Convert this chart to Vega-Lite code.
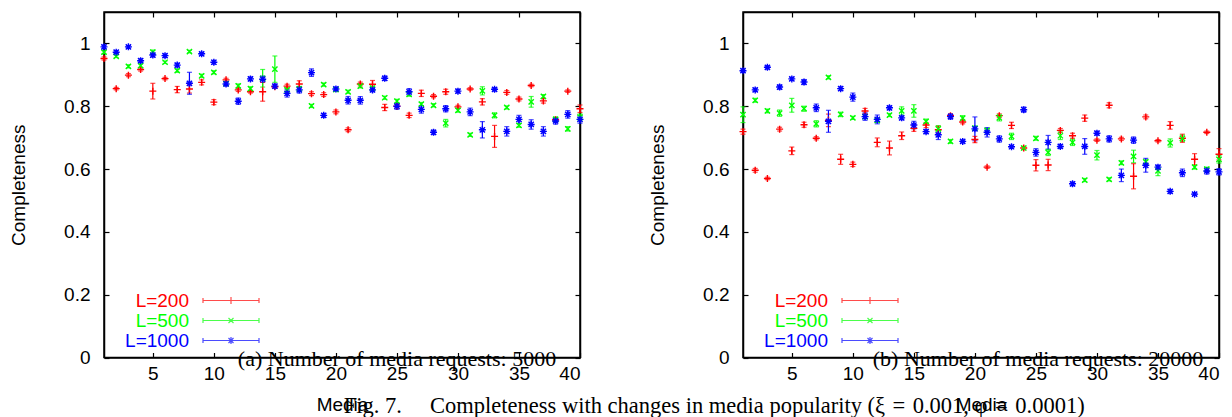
{
"$schema": "https://vega.github.io/schema/vega-lite/v6.json",
"background": "white",
"padding": {"left": 8, "top": 10, "right": 5, "bottom": 0},
"config": {
  "font": "Liberation Sans",
  "view": {"stroke": "black", "strokeWidth": 1.5},
  "axis": {"domainColor": "black", "domainWidth": 1.5, "tickColor": "black", "tickWidth": 1.2, "tickSize": -5, "labelColor": "black", "titleColor": "black", "grid": false, "labelFont": "Liberation Sans", "titleFont": "Liberation Sans", "labelFontSize": 19, "titleFontSize": 19, "titleFontWeight": "normal"},
  "axisX": {"labelPadding": 12, "titlePadding": 12},
  "axisY": {"labelPadding": 19, "titlePadding": 35},
  "legend": {"orient": "bottom-left", "offset": 7, "title": null, "padding": 0, "labelFont": "Liberation Sans", "labelFontSize": 19, "labelAlign": "right", "labelOffset": -51.5, "symbolSize": 100, "symbolOffset": 110.5, "symbolStrokeWidth": 1.2, "rowPadding": 0},
  "title": {"font": "Liberation Serif", "fontSize": 22, "fontWeight": "normal", "color": "black"}
},
"datasets": {"d": [
{"p":"a","L":"L=200","m":1,"c":0.952,"e":0.005},{"p":"a","L":"L=200","m":2,"c":0.856,"e":0.004},{"p":"a","L":"L=200","m":3,"c":0.899,"e":0.005},{"p":"a","L":"L=200","m":4,"c":0.917,"e":0.005},{"p":"a","L":"L=200","m":5,"c":0.848,"e":0.025},{"p":"a","L":"L=200","m":6,"c":0.888,"e":0.004},{"p":"a","L":"L=200","m":7,"c":0.853,"e":0.01},{"p":"a","L":"L=200","m":8,"c":0.855,"e":0.013},{"p":"a","L":"L=200","m":9,"c":0.876,"e":0.008},{"p":"a","L":"L=200","m":10,"c":0.813,"e":0.008},
{"p":"a","L":"L=200","m":11,"c":0.884,"e":0.005},{"p":"a","L":"L=200","m":12,"c":0.852,"e":0.005},{"p":"a","L":"L=200","m":13,"c":0.846,"e":0.004},{"p":"a","L":"L=200","m":14,"c":0.846,"e":0.03},{"p":"a","L":"L=200","m":15,"c":0.862,"e":0.005},{"p":"a","L":"L=200","m":16,"c":0.864,"e":0.006},{"p":"a","L":"L=200","m":17,"c":0.871,"e":0.01},{"p":"a","L":"L=200","m":18,"c":0.84,"e":0.006},{"p":"a","L":"L=200","m":19,"c":0.837,"e":0.006},{"p":"a","L":"L=200","m":20,"c":0.782,"e":0.006},
{"p":"a","L":"L=200","m":21,"c":0.725,"e":0.006},{"p":"a","L":"L=200","m":22,"c":0.871,"e":0.006},{"p":"a","L":"L=200","m":23,"c":0.87,"e":0.012},{"p":"a","L":"L=200","m":24,"c":0.796,"e":0.01},{"p":"a","L":"L=200","m":25,"c":0.8,"e":0.006},{"p":"a","L":"L=200","m":26,"c":0.771,"e":0.007},{"p":"a","L":"L=200","m":27,"c":0.841,"e":0.01},{"p":"a","L":"L=200","m":28,"c":0.832,"e":0.005},{"p":"a","L":"L=200","m":29,"c":0.846,"e":0.008},{"p":"a","L":"L=200","m":30,"c":0.798,"e":0.005},
{"p":"a","L":"L=200","m":31,"c":0.855,"e":0.004},{"p":"a","L":"L=200","m":32,"c":0.814,"e":0.01},{"p":"a","L":"L=200","m":33,"c":0.704,"e":0.035},{"p":"a","L":"L=200","m":34,"c":0.844,"e":0.006},{"p":"a","L":"L=200","m":35,"c":0.823,"e":0.006},{"p":"a","L":"L=200","m":36,"c":0.866,"e":0.004},{"p":"a","L":"L=200","m":37,"c":0.817,"e":0.007},{"p":"a","L":"L=200","m":38,"c":0.757,"e":0.006},{"p":"a","L":"L=200","m":39,"c":0.848,"e":0.004},{"p":"a","L":"L=200","m":40,"c":0.792,"e":0.012},
{"p":"a","L":"L=500","m":1,"c":0.972,"e":0.005},{"p":"a","L":"L=500","m":2,"c":0.959,"e":0.004},{"p":"a","L":"L=500","m":3,"c":0.927,"e":0.005},{"p":"a","L":"L=500","m":4,"c":0.929,"e":0.006},{"p":"a","L":"L=500","m":5,"c":0.972,"e":0.007},{"p":"a","L":"L=500","m":6,"c":0.94,"e":0.004},{"p":"a","L":"L=500","m":7,"c":0.913,"e":0.005},{"p":"a","L":"L=500","m":8,"c":0.974,"e":0.004},{"p":"a","L":"L=500","m":9,"c":0.897,"e":0.005},{"p":"a","L":"L=500","m":10,"c":0.908,"e":0.005},
{"p":"a","L":"L=500","m":11,"c":0.872,"e":0.005},{"p":"a","L":"L=500","m":12,"c":0.865,"e":0.006},{"p":"a","L":"L=500","m":13,"c":0.856,"e":0.006},{"p":"a","L":"L=500","m":14,"c":0.889,"e":0.028},{"p":"a","L":"L=500","m":15,"c":0.918,"e":0.042},{"p":"a","L":"L=500","m":16,"c":0.852,"e":0.006},{"p":"a","L":"L=500","m":17,"c":0.855,"e":0.008},{"p":"a","L":"L=500","m":18,"c":0.801,"e":0.005},{"p":"a","L":"L=500","m":19,"c":0.869,"e":0.005},{"p":"a","L":"L=500","m":20,"c":0.853,"e":0.005},
{"p":"a","L":"L=500","m":21,"c":0.846,"e":0.005},{"p":"a","L":"L=500","m":22,"c":0.864,"e":0.006},{"p":"a","L":"L=500","m":23,"c":0.858,"e":0.006},{"p":"a","L":"L=500","m":24,"c":0.827,"e":0.005},{"p":"a","L":"L=500","m":25,"c":0.816,"e":0.006},{"p":"a","L":"L=500","m":26,"c":0.838,"e":0.006},{"p":"a","L":"L=500","m":27,"c":0.807,"e":0.005},{"p":"a","L":"L=500","m":28,"c":0.803,"e":0.005},{"p":"a","L":"L=500","m":29,"c":0.746,"e":0.012},{"p":"a","L":"L=500","m":30,"c":0.787,"e":0.006},
{"p":"a","L":"L=500","m":31,"c":0.709,"e":0.005},{"p":"a","L":"L=500","m":32,"c":0.849,"e":0.013},{"p":"a","L":"L=500","m":33,"c":0.771,"e":0.008},{"p":"a","L":"L=500","m":34,"c":0.796,"e":0.005},{"p":"a","L":"L=500","m":35,"c":0.739,"e":0.006},{"p":"a","L":"L=500","m":36,"c":0.814,"e":0.017},{"p":"a","L":"L=500","m":37,"c":0.831,"e":0.006},{"p":"a","L":"L=500","m":38,"c":0.758,"e":0.008},{"p":"a","L":"L=500","m":39,"c":0.728,"e":0.007},{"p":"a","L":"L=500","m":40,"c":0.765,"e":0.01},
{"p":"a","L":"L=1000","m":1,"c":0.989,"e":0.005},{"p":"a","L":"L=1000","m":2,"c":0.972,"e":0.005},{"p":"a","L":"L=1000","m":3,"c":0.989,"e":0.004},{"p":"a","L":"L=1000","m":4,"c":0.945,"e":0.006},{"p":"a","L":"L=1000","m":5,"c":0.963,"e":0.006},{"p":"a","L":"L=1000","m":6,"c":0.961,"e":0.005},{"p":"a","L":"L=1000","m":7,"c":0.931,"e":0.006},{"p":"a","L":"L=1000","m":8,"c":0.873,"e":0.035},{"p":"a","L":"L=1000","m":9,"c":0.967,"e":0.005},{"p":"a","L":"L=1000","m":10,"c":0.94,"e":0.006},
{"p":"a","L":"L=1000","m":11,"c":0.871,"e":0.007},{"p":"a","L":"L=1000","m":12,"c":0.816,"e":0.01},{"p":"a","L":"L=1000","m":13,"c":0.887,"e":0.006},{"p":"a","L":"L=1000","m":14,"c":0.886,"e":0.01},{"p":"a","L":"L=1000","m":15,"c":0.864,"e":0.006},{"p":"a","L":"L=1000","m":16,"c":0.841,"e":0.012},{"p":"a","L":"L=1000","m":17,"c":0.852,"e":0.01},{"p":"a","L":"L=1000","m":18,"c":0.907,"e":0.012},{"p":"a","L":"L=1000","m":19,"c":0.771,"e":0.006},{"p":"a","L":"L=1000","m":20,"c":0.855,"e":0.006},
{"p":"a","L":"L=1000","m":21,"c":0.819,"e":0.012},{"p":"a","L":"L=1000","m":22,"c":0.819,"e":0.012},{"p":"a","L":"L=1000","m":23,"c":0.852,"e":0.006},{"p":"a","L":"L=1000","m":24,"c":0.889,"e":0.007},{"p":"a","L":"L=1000","m":25,"c":0.8,"e":0.01},{"p":"a","L":"L=1000","m":26,"c":0.846,"e":0.01},{"p":"a","L":"L=1000","m":27,"c":0.79,"e":0.012},{"p":"a","L":"L=1000","m":28,"c":0.717,"e":0.007},{"p":"a","L":"L=1000","m":29,"c":0.792,"e":0.01},{"p":"a","L":"L=1000","m":30,"c":0.848,"e":0.006},
{"p":"a","L":"L=1000","m":31,"c":0.782,"e":0.012},{"p":"a","L":"L=1000","m":32,"c":0.725,"e":0.026},{"p":"a","L":"L=1000","m":33,"c":0.854,"e":0.005},{"p":"a","L":"L=1000","m":34,"c":0.72,"e":0.015},{"p":"a","L":"L=1000","m":35,"c":0.758,"e":0.013},{"p":"a","L":"L=1000","m":36,"c":0.742,"e":0.015},{"p":"a","L":"L=1000","m":37,"c":0.72,"e":0.015},{"p":"a","L":"L=1000","m":38,"c":0.753,"e":0.01},{"p":"a","L":"L=1000","m":39,"c":0.774,"e":0.012},{"p":"a","L":"L=1000","m":40,"c":0.758,"e":0.012},
{"p":"b","L":"L=200","m":1,"c":0.719,"e":0.008},{"p":"b","L":"L=200","m":2,"c":0.596,"e":0.006},{"p":"b","L":"L=200","m":3,"c":0.57,"e":0.004},{"p":"b","L":"L=200","m":4,"c":0.727,"e":0.006},{"p":"b","L":"L=200","m":5,"c":0.658,"e":0.012},{"p":"b","L":"L=200","m":6,"c":0.741,"e":0.008},{"p":"b","L":"L=200","m":7,"c":0.698,"e":0.005},{"p":"b","L":"L=200","m":8,"c":0.755,"e":0.02},{"p":"b","L":"L=200","m":9,"c":0.631,"e":0.016},{"p":"b","L":"L=200","m":10,"c":0.615,"e":0.007},
{"p":"b","L":"L=200","m":11,"c":0.785,"e":0.008},{"p":"b","L":"L=200","m":12,"c":0.685,"e":0.014},{"p":"b","L":"L=200","m":13,"c":0.667,"e":0.022},{"p":"b","L":"L=200","m":14,"c":0.706,"e":0.012},{"p":"b","L":"L=200","m":15,"c":0.73,"e":0.01},{"p":"b","L":"L=200","m":16,"c":0.74,"e":0.008},{"p":"b","L":"L=200","m":17,"c":0.725,"e":0.012},{"p":"b","L":"L=200","m":18,"c":0.77,"e":0.006},{"p":"b","L":"L=200","m":19,"c":0.75,"e":0.006},{"p":"b","L":"L=200","m":20,"c":0.694,"e":0.01},
{"p":"b","L":"L=200","m":21,"c":0.606,"e":0.004},{"p":"b","L":"L=200","m":22,"c":0.77,"e":0.006},{"p":"b","L":"L=200","m":23,"c":0.739,"e":0.01},{"p":"b","L":"L=200","m":24,"c":0.667,"e":0.005},{"p":"b","L":"L=200","m":25,"c":0.612,"e":0.018},{"p":"b","L":"L=200","m":26,"c":0.613,"e":0.018},{"p":"b","L":"L=200","m":27,"c":0.723,"e":0.006},{"p":"b","L":"L=200","m":28,"c":0.706,"e":0.008},{"p":"b","L":"L=200","m":29,"c":0.762,"e":0.01},{"p":"b","L":"L=200","m":30,"c":0.692,"e":0.004},
{"p":"b","L":"L=200","m":31,"c":0.803,"e":0.008},{"p":"b","L":"L=200","m":32,"c":0.696,"e":0.005},{"p":"b","L":"L=200","m":33,"c":0.577,"e":0.04},{"p":"b","L":"L=200","m":34,"c":0.766,"e":0.006},{"p":"b","L":"L=200","m":35,"c":0.69,"e":0.004},{"p":"b","L":"L=200","m":36,"c":0.739,"e":0.012},{"p":"b","L":"L=200","m":37,"c":0.698,"e":0.013},{"p":"b","L":"L=200","m":38,"c":0.631,"e":0.018},{"p":"b","L":"L=200","m":39,"c":0.717,"e":0.004},{"p":"b","L":"L=200","m":40,"c":0.647,"e":0.018},
{"p":"b","L":"L=500","m":1,"c":0.773,"e":0.025},{"p":"b","L":"L=500","m":2,"c":0.819,"e":0.006},{"p":"b","L":"L=500","m":3,"c":0.785,"e":0.006},{"p":"b","L":"L=500","m":4,"c":0.778,"e":0.01},{"p":"b","L":"L=500","m":5,"c":0.803,"e":0.022},{"p":"b","L":"L=500","m":6,"c":0.792,"e":0.008},{"p":"b","L":"L=500","m":7,"c":0.744,"e":0.01},{"p":"b","L":"L=500","m":8,"c":0.892,"e":0.005},{"p":"b","L":"L=500","m":9,"c":0.774,"e":0.007},{"p":"b","L":"L=500","m":10,"c":0.763,"e":0.005},
{"p":"b","L":"L=500","m":11,"c":0.767,"e":0.006},{"p":"b","L":"L=500","m":12,"c":0.755,"e":0.006},{"p":"b","L":"L=500","m":13,"c":0.772,"e":0.005},{"p":"b","L":"L=500","m":14,"c":0.785,"e":0.013},{"p":"b","L":"L=500","m":15,"c":0.785,"e":0.02},{"p":"b","L":"L=500","m":16,"c":0.752,"e":0.007},{"p":"b","L":"L=500","m":17,"c":0.728,"e":0.01},{"p":"b","L":"L=500","m":18,"c":0.688,"e":0.006},{"p":"b","L":"L=500","m":19,"c":0.762,"e":0.008},{"p":"b","L":"L=500","m":20,"c":0.73,"e":0.006},
{"p":"b","L":"L=500","m":21,"c":0.723,"e":0.006},{"p":"b","L":"L=500","m":22,"c":0.763,"e":0.01},{"p":"b","L":"L=500","m":23,"c":0.704,"e":0.01},{"p":"b","L":"L=500","m":24,"c":0.667,"e":0.005},{"p":"b","L":"L=500","m":25,"c":0.698,"e":0.006},{"p":"b","L":"L=500","m":26,"c":0.653,"e":0.01},{"p":"b","L":"L=500","m":27,"c":0.706,"e":0.012},{"p":"b","L":"L=500","m":28,"c":0.685,"e":0.01},{"p":"b","L":"L=500","m":29,"c":0.565,"e":0.005},{"p":"b","L":"L=500","m":30,"c":0.644,"e":0.015},
{"p":"b","L":"L=500","m":31,"c":0.567,"e":0.005},{"p":"b","L":"L=500","m":32,"c":0.62,"e":0.006},{"p":"b","L":"L=500","m":33,"c":0.64,"e":0.02},{"p":"b","L":"L=500","m":34,"c":0.623,"e":0.006},{"p":"b","L":"L=500","m":35,"c":0.594,"e":0.015},{"p":"b","L":"L=500","m":36,"c":0.683,"e":0.013},{"p":"b","L":"L=500","m":37,"c":0.698,"e":0.01},{"p":"b","L":"L=500","m":38,"c":0.606,"e":0.006},{"p":"b","L":"L=500","m":39,"c":0.6,"e":0.006},{"p":"b","L":"L=500","m":40,"c":0.631,"e":0.012},
{"p":"b","L":"L=1000","m":1,"c":0.913,"e":0.005},{"p":"b","L":"L=1000","m":2,"c":0.852,"e":0.005},{"p":"b","L":"L=1000","m":3,"c":0.924,"e":0.005},{"p":"b","L":"L=1000","m":4,"c":0.861,"e":0.007},{"p":"b","L":"L=1000","m":5,"c":0.887,"e":0.005},{"p":"b","L":"L=1000","m":6,"c":0.877,"e":0.008},{"p":"b","L":"L=1000","m":7,"c":0.795,"e":0.012},{"p":"b","L":"L=1000","m":8,"c":0.752,"e":0.035},{"p":"b","L":"L=1000","m":9,"c":0.856,"e":0.006},{"p":"b","L":"L=1000","m":10,"c":0.829,"e":0.013},
{"p":"b","L":"L=1000","m":11,"c":0.767,"e":0.012},{"p":"b","L":"L=1000","m":12,"c":0.758,"e":0.014},{"p":"b","L":"L=1000","m":13,"c":0.795,"e":0.006},{"p":"b","L":"L=1000","m":14,"c":0.763,"e":0.006},{"p":"b","L":"L=1000","m":15,"c":0.74,"e":0.012},{"p":"b","L":"L=1000","m":16,"c":0.719,"e":0.006},{"p":"b","L":"L=1000","m":17,"c":0.709,"e":0.015},{"p":"b","L":"L=1000","m":18,"c":0.767,"e":0.008},{"p":"b","L":"L=1000","m":19,"c":0.688,"e":0.004},{"p":"b","L":"L=1000","m":20,"c":0.728,"e":0.038},
{"p":"b","L":"L=1000","m":21,"c":0.717,"e":0.015},{"p":"b","L":"L=1000","m":22,"c":0.696,"e":0.01},{"p":"b","L":"L=1000","m":23,"c":0.671,"e":0.005},{"p":"b","L":"L=1000","m":24,"c":0.789,"e":0.008},{"p":"b","L":"L=1000","m":25,"c":0.653,"e":0.012},{"p":"b","L":"L=1000","m":26,"c":0.685,"e":0.022},{"p":"b","L":"L=1000","m":27,"c":0.672,"e":0.006},{"p":"b","L":"L=1000","m":28,"c":0.553,"e":0.006},{"p":"b","L":"L=1000","m":29,"c":0.672,"e":0.025},{"p":"b","L":"L=1000","m":30,"c":0.714,"e":0.006},
{"p":"b","L":"L=1000","m":31,"c":0.696,"e":0.01},{"p":"b","L":"L=1000","m":32,"c":0.58,"e":0.02},{"p":"b","L":"L=1000","m":33,"c":0.692,"e":0.01},{"p":"b","L":"L=1000","m":34,"c":0.612,"e":0.022},{"p":"b","L":"L=1000","m":35,"c":0.606,"e":0.006},{"p":"b","L":"L=1000","m":36,"c":0.529,"e":0.005},{"p":"b","L":"L=1000","m":37,"c":0.588,"e":0.012},{"p":"b","L":"L=1000","m":38,"c":0.52,"e":0.004},{"p":"b","L":"L=1000","m":39,"c":0.594,"e":0.01},{"p":"b","L":"L=1000","m":40,"c":0.591,"e":0.01}
]},
"data": {"name": "d"},
"title": {"text": "Fig. 7.\u2003 Completeness with changes in media popularity (ξ\u2004=\u20040.001, φ\u2004=\u20040.0001)", "orient": "bottom", "anchor": "start", "frame": "bounds", "dx": 335, "offset": -20, "fontSize": 22.5},
"spacing": 59,
"resolve": {"scale": {"color": "independent"}, "legend": {"color": "independent"}},
"hconcat": [
{
  "width": 476, "height": 345.5,
  "title": {"text": "(a) Number of media requests: 5000", "orient": "bottom", "anchor": "middle", "dx": 55, "offset": -66},
  "transform": [{"filter": "datum.p === 'a'"}],
  "layer": [
    {"mark": {"type": "errorbar", "ticks": true, "size": 5, "thickness": 1.2},
     "encoding": {
       "x": {"field": "m", "type": "quantitative", "scale": {"domain": [1, 40]}, "axis": {"values": [5,10,15,20,25,30,35,40], "title": "Media"}},
       "y": {"field": "c", "type": "quantitative", "scale": {"domain": [0, 1.1]}, "axis": {"values": [0,0.2,0.4,0.6,0.8,1], "format": "~g", "title": "Completeness"}},
       "yError": {"field": "e"},
       "color": {"field": "L", "type": "nominal", "scale": {"domain": ["L=200","L=500","L=1000"], "range": ["#ff0000","#00ff00","#0000ff"]},
         "legend": {"labelColor": {"expr": "datum.value === 'L=200' ? '#ff0000' : datum.value === 'L=500' ? '#00ff00' : '#0000ff'"},
                    "symbolType": {"expr": "datum.value === 'L=200' ? 'M-5.6,0L5.6,0M-5.6,-0.5L-5.6,0.5M5.6,-0.5L5.6,0.5M-0.7,0L0.7,0M0,-0.7L0,0.7' : datum.value === 'L=500' ? 'M-5.6,0L5.6,0M-5.6,-0.5L-5.6,0.5M5.6,-0.5L5.6,0.5M-0.5,-0.5L0.5,0.5M-0.5,0.5L0.5,-0.5' : 'M-5.6,0L5.6,0M-5.6,-0.5L-5.6,0.5M5.6,-0.5L5.6,0.5M-0.7,0L0.7,0M0,-0.7L0,0.7M-0.5,-0.5L0.5,0.5M-0.5,0.5L0.5,-0.5'"}}}
     }},
    {"transform": [{"filter": "datum.L === 'L=200'"}],
     "mark": {"type": "point", "shape": "M-1,0L1,0M0,-1L0,1", "filled": false, "strokeWidth": 1.4, "size": 49, "opacity": 1},
     "encoding": {
       "x": {"field": "m", "type": "quantitative", "scale": {"domain": [1, 40]}, "axis": {"orient": "top", "values": [5,10,15,20,25,30,35,40], "labels": false, "title": null}},
       "y": {"field": "c", "type": "quantitative", "scale": {"domain": [0, 1.1]}, "axis": {"orient": "right", "values": [0,0.2,0.4,0.6,0.8,1], "labels": false, "title": null}},
       "color": {"field": "L", "type": "nominal", "scale": {"domain": ["L=200","L=500","L=1000"], "range": ["#ff0000","#00ff00","#0000ff"]}}
     }},
    {"transform": [{"filter": "datum.L === 'L=500'"}],
     "mark": {"type": "point", "shape": "M-0.75,-0.75L0.75,0.75M-0.75,0.75L0.75,-0.75", "filled": false, "strokeWidth": 1.4, "size": 49, "opacity": 1},
     "encoding": {
       "x": {"field": "m", "type": "quantitative", "scale": {"domain": [1, 40]}, "axis": null},
       "y": {"field": "c", "type": "quantitative", "scale": {"domain": [0, 1.1]}, "axis": null},
       "color": {"field": "L", "type": "nominal", "scale": {"domain": ["L=200","L=500","L=1000"], "range": ["#ff0000","#00ff00","#0000ff"]}}
     }},
    {"transform": [{"filter": "datum.L === 'L=1000'"}],
     "mark": {"type": "point", "shape": "M-1,0L1,0M0,-1L0,1M-0.75,-0.75L0.75,0.75M-0.75,0.75L0.75,-0.75", "filled": false, "strokeWidth": 1.4, "size": 49, "opacity": 1},
     "encoding": {
       "x": {"field": "m", "type": "quantitative", "scale": {"domain": [1, 40]}, "axis": null},
       "y": {"field": "c", "type": "quantitative", "scale": {"domain": [0, 1.1]}, "axis": null},
       "color": {"field": "L", "type": "nominal", "scale": {"domain": ["L=200","L=500","L=1000"], "range": ["#ff0000","#00ff00","#0000ff"]}}
     }}
  ],
  "resolve": {"axis": {"x": "independent", "y": "independent"}}
},
{
  "width": 476, "height": 345.5,
  "title": {"text": "(b) Number of media requests: 20000", "orient": "bottom", "anchor": "middle", "dx": 57, "offset": -66},
  "transform": [{"filter": "datum.p === 'b'"}],
  "layer": [
    {"mark": {"type": "errorbar", "ticks": true, "size": 5, "thickness": 1.2},
     "encoding": {
       "x": {"field": "m", "type": "quantitative", "scale": {"domain": [1, 40]}, "axis": {"values": [5,10,15,20,25,30,35,40], "title": "Media"}},
       "y": {"field": "c", "type": "quantitative", "scale": {"domain": [0, 1.1]}, "axis": {"values": [0,0.2,0.4,0.6,0.8,1], "format": "~g", "title": "Completeness"}},
       "yError": {"field": "e"},
       "color": {"field": "L", "type": "nominal", "scale": {"domain": ["L=200","L=500","L=1000"], "range": ["#ff0000","#00ff00","#0000ff"]},
         "legend": {"labelColor": {"expr": "datum.value === 'L=200' ? '#ff0000' : datum.value === 'L=500' ? '#00ff00' : '#0000ff'"},
                    "symbolType": {"expr": "datum.value === 'L=200' ? 'M-5.6,0L5.6,0M-5.6,-0.5L-5.6,0.5M5.6,-0.5L5.6,0.5M-0.7,0L0.7,0M0,-0.7L0,0.7' : datum.value === 'L=500' ? 'M-5.6,0L5.6,0M-5.6,-0.5L-5.6,0.5M5.6,-0.5L5.6,0.5M-0.5,-0.5L0.5,0.5M-0.5,0.5L0.5,-0.5' : 'M-5.6,0L5.6,0M-5.6,-0.5L-5.6,0.5M5.6,-0.5L5.6,0.5M-0.7,0L0.7,0M0,-0.7L0,0.7M-0.5,-0.5L0.5,0.5M-0.5,0.5L0.5,-0.5'"}}}
     }},
    {"transform": [{"filter": "datum.L === 'L=200'"}],
     "mark": {"type": "point", "shape": "M-1,0L1,0M0,-1L0,1", "filled": false, "strokeWidth": 1.4, "size": 49, "opacity": 1},
     "encoding": {
       "x": {"field": "m", "type": "quantitative", "scale": {"domain": [1, 40]}, "axis": {"orient": "top", "values": [5,10,15,20,25,30,35,40], "labels": false, "title": null}},
       "y": {"field": "c", "type": "quantitative", "scale": {"domain": [0, 1.1]}, "axis": {"orient": "right", "values": [0,0.2,0.4,0.6,0.8,1], "labels": false, "title": null}},
       "color": {"field": "L", "type": "nominal", "scale": {"domain": ["L=200","L=500","L=1000"], "range": ["#ff0000","#00ff00","#0000ff"]}}
     }},
    {"transform": [{"filter": "datum.L === 'L=500'"}],
     "mark": {"type": "point", "shape": "M-0.75,-0.75L0.75,0.75M-0.75,0.75L0.75,-0.75", "filled": false, "strokeWidth": 1.4, "size": 49, "opacity": 1},
     "encoding": {
       "x": {"field": "m", "type": "quantitative", "scale": {"domain": [1, 40]}, "axis": null},
       "y": {"field": "c", "type": "quantitative", "scale": {"domain": [0, 1.1]}, "axis": null},
       "color": {"field": "L", "type": "nominal", "scale": {"domain": ["L=200","L=500","L=1000"], "range": ["#ff0000","#00ff00","#0000ff"]}}
     }},
    {"transform": [{"filter": "datum.L === 'L=1000'"}],
     "mark": {"type": "point", "shape": "M-1,0L1,0M0,-1L0,1M-0.75,-0.75L0.75,0.75M-0.75,0.75L0.75,-0.75", "filled": false, "strokeWidth": 1.4, "size": 49, "opacity": 1},
     "encoding": {
       "x": {"field": "m", "type": "quantitative", "scale": {"domain": [1, 40]}, "axis": null},
       "y": {"field": "c", "type": "quantitative", "scale": {"domain": [0, 1.1]}, "axis": null},
       "color": {"field": "L", "type": "nominal", "scale": {"domain": ["L=200","L=500","L=1000"], "range": ["#ff0000","#00ff00","#0000ff"]}}
     }}
  ],
  "resolve": {"axis": {"x": "independent", "y": "independent"}}
}
]
}
